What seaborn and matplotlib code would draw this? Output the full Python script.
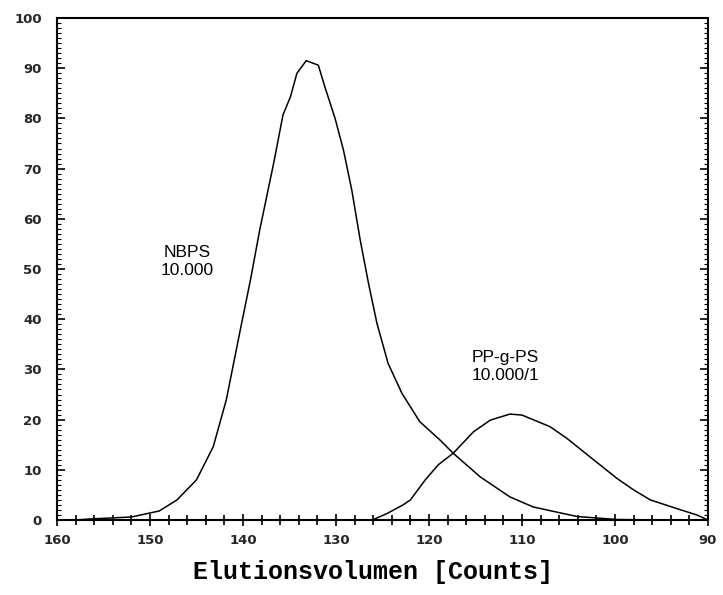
import matplotlib
matplotlib.use("Agg")
import matplotlib.pyplot as plt
from matplotlib.ticker import MultipleLocator
import seaborn as sns
import pandas as pd

# Elution curves (detector signal vs. elution volume in counts)
nbps_volume = [158.0, 156.5, 152.0, 149.0, 147.1, 145.0, 143.2, 141.8, 140.3, 139.2,
               138.2, 136.7, 135.7, 134.9, 134.2, 133.2, 131.9, 131.2, 130.1, 129.2,
               128.3, 127.4, 126.5, 125.6, 124.4, 122.9, 121.0, 118.8, 117.4, 114.5,
               111.3, 108.8, 104.1, 99.8, 95.0, 90.0]
nbps_signal = [0.0, 0.2, 0.6, 1.8, 4.0, 8.0, 14.6, 23.9, 37.8, 47.8,
               57.8, 71.1, 80.7, 84.3, 89.0, 91.5, 90.6, 86.3, 80.0, 73.7,
               65.7, 55.8, 47.1, 39.2, 31.2, 25.2, 19.6, 15.9, 13.3, 8.6,
               4.6, 2.6, 0.7, 0.1, 0.0, 0.0]

ppgps_volume = [126.1, 124.5, 122.8, 122.0, 120.4, 119.0, 117.4, 115.2, 113.4, 111.3,
                110.0, 107.0, 105.2, 102.3, 99.8, 98.0, 96.2, 93.4, 91.2, 90.0]
ppgps_signal = [0.0, 1.3, 3.0, 4.0, 8.0, 11.0, 13.3, 17.6, 19.9, 21.1,
                20.9, 18.6, 16.3, 12.0, 8.3, 6.0, 4.0, 2.3, 1.0, 0.0]

x_ticks = [160, 150, 140, 130, 120, 110, 100, 90]
y_ticks = [0, 10, 20, 30, 40, 50, 60, 70, 80, 90, 100]

sns.set_style("white")
plt.rcParams["font.family"] = ["DejaVu Sans"]

nbps = pd.DataFrame({"volume": nbps_volume, "signal": nbps_signal})
ppgps = pd.DataFrame({"volume": ppgps_volume, "signal": ppgps_signal})

fig = plt.figure(figsize=(7.23, 5.95), dpi=100)
ax = fig.add_axes([57 / 723, 75 / 595, 651 / 723, 502 / 595])

sns.lineplot(data=nbps, x="volume", y="signal", ax=ax, color="black",
             linewidth=1.1, sort=False, estimator=None)
sns.lineplot(data=ppgps, x="volume", y="signal", ax=ax, color="black",
             linewidth=1.1, sort=False, estimator=None)

ax.set_xlim(160, 90)
ax.set_ylim(0, 100)

ax.set_xticks(x_ticks)
ax.set_yticks(y_ticks)
ax.xaxis.set_minor_locator(MultipleLocator(2))
ax.yaxis.set_minor_locator(MultipleLocator(1))

tick_font = dict(family="DejaVu Sans", weight="bold", size=9.5)
ax.set_xticklabels([str(v) for v in x_ticks], fontdict=tick_font)
ax.set_yticklabels([str(v) for v in y_ticks], fontdict=tick_font)

ax.tick_params(axis="x", which="major", direction="inout", length=8, width=1.2,
               color="black", pad=6, bottom=True, top=False)
ax.tick_params(axis="x", which="minor", direction="inout", length=7, width=1.2,
               color="black", bottom=True, top=False)
ax.tick_params(axis="y", which="major", direction="in", length=6, width=1.2,
               color="black", pad=11, left=True, right=True)
ax.tick_params(axis="y", which="minor", direction="in", length=3, width=0.8,
               color="black", left=True, right=True)

for side in ["left", "right", "top", "bottom"]:
    ax.spines[side].set_visible(True)
    ax.spines[side].set_color("black")
    ax.spines[side].set_linewidth(1.5)

ax.set_xlabel("")
ax.set_ylabel("")
fig.text(373 / 723, 1 - 572 / 595, "Elutionsvolumen [Counts]",
         ha="center", va="center", family="Liberation Mono", weight="bold",
         size=18, color="black")

label_font = dict(family="Liberation Sans", size=12.5, color="black",
                  ha="center", va="center", linespacing=1.25)
ax.text(146.0, 51.4, "NBPS\n10.000", **label_font)
ax.text(111.8, 30.6, "PP-g-PS\n10.000/1", **label_font)

fig.savefig("out.png", dpi=100, facecolor="white")
